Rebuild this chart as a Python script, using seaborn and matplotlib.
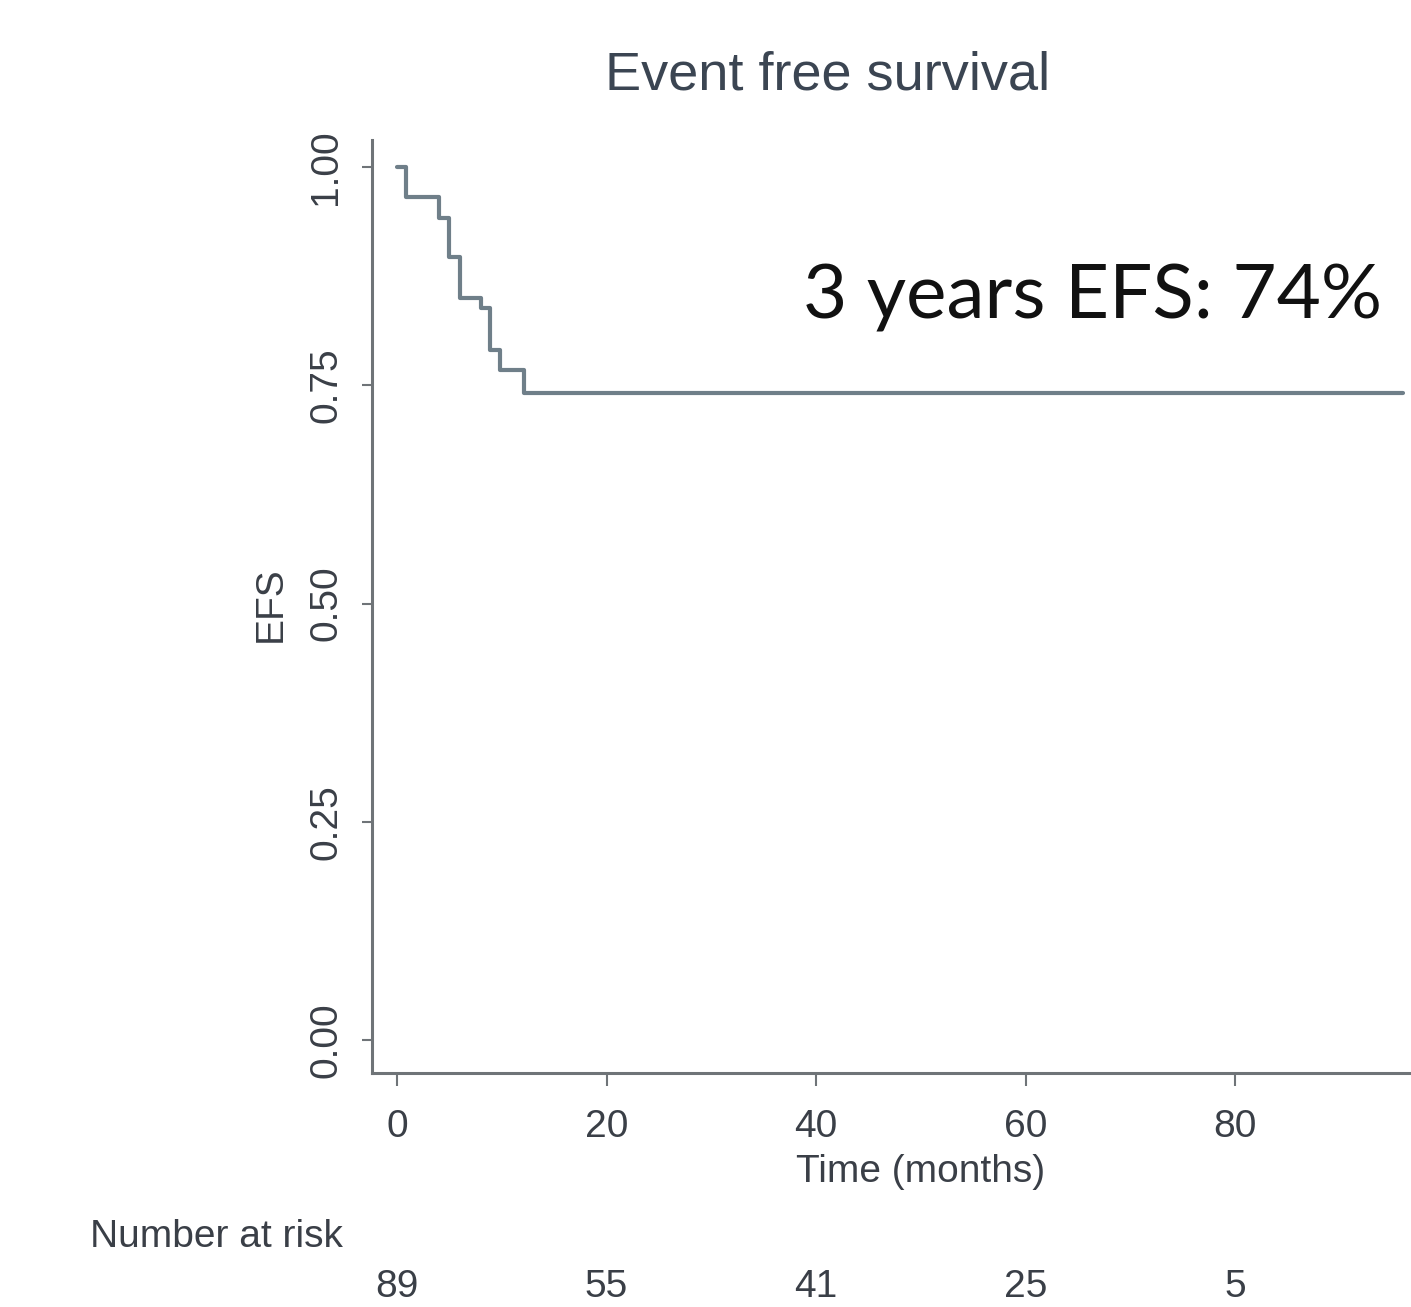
import matplotlib
matplotlib.use("Agg")
import matplotlib.pyplot as plt
import seaborn as sns
import pandas as pd
from matplotlib import font_manager

# Kaplan-Meier step points
times = [0, 0.9, 4.0, 5.0, 6.0, 8.0, 8.9, 9.8, 12.1, 96]
efs = [1.0, 0.966, 0.942, 0.897, 0.850, 0.838, 0.791, 0.767, 0.741, 0.741]

# number at risk table
risk_times = [0, 20, 40, 60, 80]
at_risk = [89, 55, 41, 25, 5]

xticks = [0, 20, 40, 60, 80]
yticks = [0.00, 0.25, 0.50, 0.75, 1.00]

df = pd.DataFrame({"Time": times, "EFS": efs})

sns.set_theme(style="white")
names = {f.name for f in font_manager.fontManager.ttflist}
narrow = "Liberation Sans Narrow" if "Liberation Sans Narrow" in names else "Liberation Sans"
plt.rcParams["font.family"] = [narrow, "DejaVu Sans"]

text_col = "#3a3f47"
axis_col = "#6f7478"
line_col = "#6f7f89"
fs = 28

fig = plt.figure(figsize=(14.11, 13.07), dpi=100)
ax = fig.add_axes([372 / 1411, 1 - 1073 / 1307, 1 - 372 / 1411, (1073 - 140) / 1307])

sns.lineplot(data=df, x="Time", y="EFS", drawstyle="steps-post", estimator=None,
             color=line_col, linewidth=3.0, ax=ax)

ax.set_xlim(-2.39, 96.8)
ax.set_ylim(-0.0378, 1.031)
ax.set_xticks(xticks)
ax.set_xticklabels([str(v) for v in xticks])
ax.set_yticks(yticks)
ax.set_yticklabels([f"{v:.2f}" for v in yticks], rotation=90, va="center")

for s in ["top", "right"]:
    ax.spines[s].set_visible(False)
for s in ["left", "bottom"]:
    ax.spines[s].set_color(axis_col)
    ax.spines[s].set_linewidth(2.2)

ax.tick_params(axis="x", direction="out", length=9, width=1.5, color=axis_col,
               labelsize=fs, labelcolor=text_col, pad=17, bottom=True)
ax.tick_params(axis="y", direction="out", length=7, width=1.5, color=axis_col,
               labelsize=fs, labelcolor=text_col, pad=13, left=True)

ax.set_xlabel("Time (months)", fontsize=fs, color=text_col)
ax.xaxis.set_label_coords(0.528, -0.087)
ax.set_ylabel("EFS", fontsize=fs, color=text_col)
ax.yaxis.set_label_coords(-0.08, 0.502)

fig.text(828 / 1411, 1 - 75 / 1307, "Event free survival", fontsize=39,
         color="#3b4552", ha="center", va="center")

fig.text(803 / 1411, 1 - 318 / 1307, "3 years EFS: 74%", fontsize=55,
         color="#111111", ha="left", va="baseline", family=["Lato", "DejaVu Sans"])

# number at risk
fig.text(343 / 1411, 1 - 1237 / 1307, "Number at risk", fontsize=fs,
         color=text_col, ha="right", va="center")
for t, n in zip(risk_times, at_risk):
    ax.text(t, -0.229, str(n), transform=ax.get_xaxis_transform(), fontsize=fs,
            color=text_col, ha="center", va="center", clip_on=False)

fig.savefig("out.png", dpi=100)
